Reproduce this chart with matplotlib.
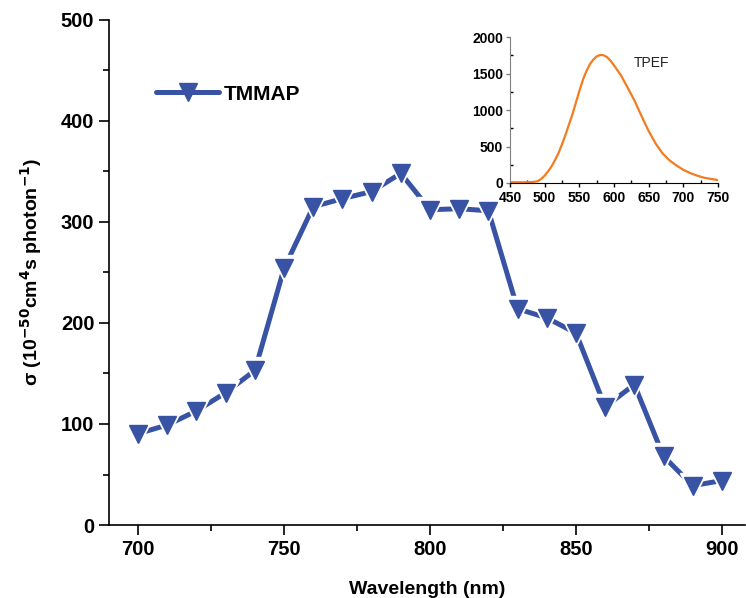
import numpy as np
import matplotlib.pyplot as plt
from matplotlib.lines import Line2D
from matplotlib.ticker import MultipleLocator

plt.rcParams['font.family'] = ['Liberation Sans', 'DejaVu Sans']

# two-photon cross section of TMMAP
wavelength = [700, 710, 720, 730, 740, 750, 760, 770, 780, 790, 800,
              810, 820, 830, 840, 850, 860, 870, 880, 890, 900]
sigma = [90.5, 99, 113, 131, 153, 254, 315, 323, 330, 348, 312,
         313, 311, 214, 205, 190, 117, 139, 68, 39, 44]

# TPEF emission spectrum (inset)
em_wl = [450, 460, 470, 480, 485, 490, 495, 500, 505, 510, 515, 520, 525,
         530, 535, 540, 545, 550, 555, 560, 565, 570, 575, 580, 585, 590,
         595, 600, 610, 620, 630, 640, 650, 660, 670, 680, 690, 700,
         710, 720, 730, 740, 750]
em_int = [10, 10, 10, 12, 16, 25, 55, 100, 160, 228, 315, 411, 530,
          660, 800, 940, 1100, 1260, 1410, 1530, 1625, 1690, 1735, 1755, 1750, 1725,
          1675, 1612, 1475, 1300, 1120, 910, 710, 540, 405, 310, 240, 180,
          135, 100, 72, 55, 40]

blue = '#3953a4'
orange = '#f47c20'

fig = plt.figure(figsize=(7.46, 5.98), dpi=100)
ax = fig.add_axes([0.146, 0.122, 0.853, 0.845])

# line with gaps around the symbols
ax.plot(wavelength, sigma, '-', color=blue, lw=3.6, solid_capstyle='round', zorder=2)
ax.plot(wavelength, sigma, 'v', color='white', ms=18.5, zorder=3)
ax.plot(wavelength, sigma, 'v', color=blue, ms=13.5, zorder=4)

ax.set_xlim(690, 908)
ax.set_ylim(0, 500)
ax.xaxis.set_major_locator(MultipleLocator(50))
ax.xaxis.set_minor_locator(MultipleLocator(25))
ax.yaxis.set_major_locator(MultipleLocator(100))
ax.yaxis.set_minor_locator(MultipleLocator(50))
for s in ['top', 'right']:
    ax.spines[s].set_visible(False)
ax.spines['left'].set_linewidth(1.2)
ax.spines['bottom'].set_linewidth(1.2)
ax.tick_params(which='major', direction='out', length=7, width=1.2, labelsize=14.5)
ax.tick_params(which='minor', direction='out', length=4, width=1.2)
for lab in ax.get_xticklabels() + ax.get_yticklabels():
    lab.set_fontweight('bold')

ax.set_xlabel('Wavelength (nm)', fontsize=14, fontweight='bold', labelpad=16)
ax.set_ylabel(r'σ (10$^{\mathbf{-50}}$cm$^{\mathbf{4}}$s photon$^{\mathbf{-1}}$)',
              fontsize=14, fontweight='bold', labelpad=12)

handle = Line2D([], [], color=blue, lw=3.6, marker='v', ms=13.5,
                solid_capstyle='round')
ax.legend(handles=[handle], labels=['TMMAP'], loc='center left',
          bbox_to_anchor=(0.045, 0.853), frameon=False, handlelength=3.0,
          handletextpad=0.25, prop={'weight': 'bold', 'size': 15})

# inset
ins = fig.add_axes([0.6836, 0.694, 0.279, 0.244])
ins.plot(em_wl, em_int, color=orange, lw=1.6)
ins.set_xlim(450, 750)
ins.set_ylim(0, 2000)
ins.xaxis.set_major_locator(MultipleLocator(50))
ins.xaxis.set_minor_locator(MultipleLocator(25))
ins.yaxis.set_major_locator(MultipleLocator(500))
ins.yaxis.set_minor_locator(MultipleLocator(250))
for s in ['top', 'right']:
    ins.spines[s].set_visible(False)
ins.spines['left'].set_color('#808080')
ins.tick_params(which='major', direction='out', length=3, width=1, labelsize=10)
ins.tick_params(axis='x', which='major', pad=3)
ins.tick_params(axis='y', which='major', pad=2, color='#808080')
ins.tick_params(which='minor', direction='in', length=2, width=1)
for lab in ins.get_xticklabels() + ins.get_yticklabels():
    lab.set_fontweight('bold')
ins.text(654, 1650, 'TPEF', fontsize=10, ha='center', va='center', color='#222222')

fig.savefig('out.png', dpi=100)
